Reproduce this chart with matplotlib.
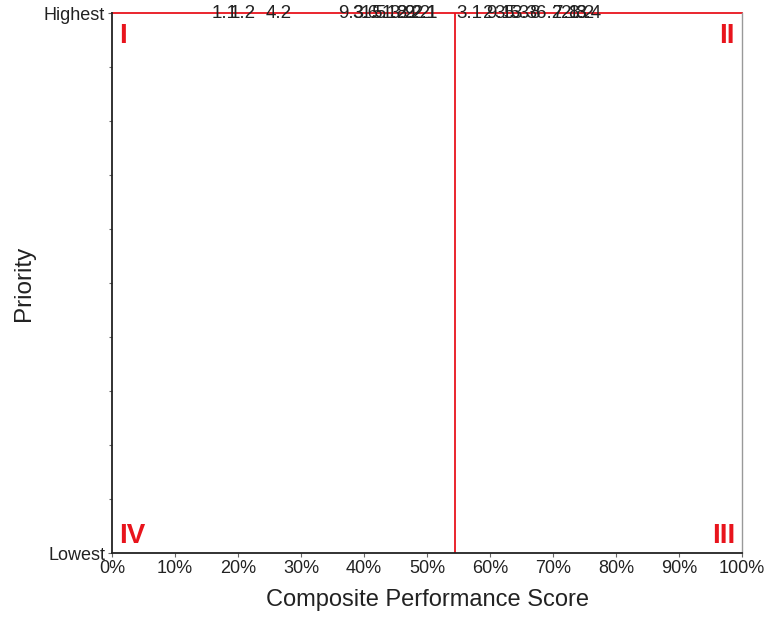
import matplotlib
matplotlib.use("Agg")
import matplotlib.pyplot as plt
from matplotlib.ticker import MultipleLocator, FuncFormatter

plt.rcParams['font.family'] = ['Liberation Sans', 'DejaVu Sans']

# Data (score in %, priority 0..1)
item_labels = ["1.1", "1.2", "4.2", "9.3", "3.6", "1.5", "5.1", "1.8", "3.2", "2.2", "9.2", "2.1", "1",
               "3.1", "2", "9.1", "3.5", "5.3", "3.3", "8", "6.2", "7.1", "2.3", "8.2", "8.4"]
item_scores = [17.9, 20.8, 26.5, 37.9, 40.2, 41.6, 43.2, 44.8, 46.1, 47.3, 48.4, 49.6, 50.8,
               56.8, 59.8, 61.5, 62.8, 64.1, 65.5, 67.0, 69.4, 72.0, 73.3, 74.5, 75.6]
item_priority = [1.0] * len(item_scores)
threshold_score = 54.4
threshold_priority = 1.0
quadrant_names = ["I", "II", "III", "IV"]

fig = plt.figure(figsize=(7.7, 6.17), dpi=100)
ax = fig.add_axes([112/770, 64/617, 630/770, 540/617])
ax.set_xlim(0, 100)
ax.set_ylim(0, 1)

for lab, xs, yp in zip(item_labels, item_scores, item_priority):
    ax.text(xs, yp, lab, ha='center', va='center', fontsize=13.5, color='#222222', zorder=3)

ax.axvline(threshold_score, color='#e8141c', lw=1.3, zorder=2)
ax.axhline(threshold_priority, color='#e8141c', lw=1.3, zorder=2, clip_on=False)

qkw = dict(color='#e8141c', fontsize=20, fontweight='bold', transform=ax.transAxes)
ax.text(0.011, 0.982, quadrant_names[0], ha='left', va='top', **qkw)
ax.text(0.989, 0.982, quadrant_names[1], ha='right', va='top', **qkw)
ax.text(0.989, 0.008, quadrant_names[2], ha='right', va='bottom', **qkw)
ax.text(0.011, 0.008, quadrant_names[3], ha='left', va='bottom', **qkw)

ax.xaxis.set_major_locator(MultipleLocator(10))
ax.xaxis.set_major_formatter(FuncFormatter(lambda v, p: f"{int(round(v))}%"))
ax.set_yticks([0, 1])
ax.set_yticklabels(["Lowest", "Highest"])
ax.yaxis.set_minor_locator(MultipleLocator(0.1))
ax.tick_params(axis='both', which='major', labelsize=13, length=3, width=0.8, color='#666666', pad=2, labelcolor='#222222')
ax.tick_params(axis='y', which='minor', length=2, width=0.8, color='#666666')

for s in ['left', 'bottom']:
    ax.spines[s].set_color('#222222')
    ax.spines[s].set_linewidth(1.3)
ax.spines['right'].set_color('#999999')
ax.spines['right'].set_linewidth(1.0)
ax.spines['top'].set_visible(False)

ax.set_xlabel("Composite Performance Score", fontsize=17, color='#222222', labelpad=9)
ax.set_ylabel("Priority", fontsize=17.5, color='#222222', labelpad=6)

fig.savefig("out.png", dpi=100)
